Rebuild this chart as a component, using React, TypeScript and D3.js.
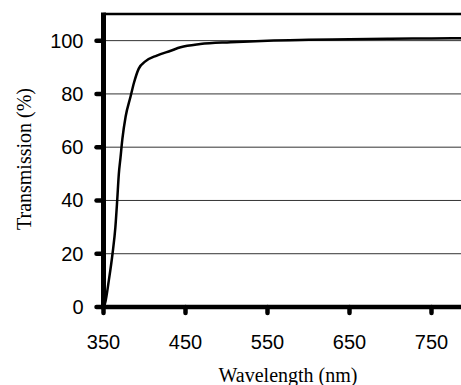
import { useEffect, useRef } from "react"
import * as d3 from "d3"

const wavelengths = [350, 352, 356.5, 361, 364.5, 366.7, 368.7, 370.7, 373, 377, 383, 387, 393, 401, 415, 432, 444, 468, 505, 550, 600, 650, 700, 750, 800]
const transmission = [0, 1.5, 10, 20, 30, 40, 50, 56, 63, 71.5, 79, 84, 89.5, 92.2, 94.4, 96.2, 97.5, 98.7, 99.4, 100, 100.3, 100.5, 100.7, 100.8, 100.9]
const xTicks = [350, 450, 550, 650, 750]
const yTicks = [0, 20, 40, 60, 80, 100]

export default function App() {
  const svgRef = useRef<SVGSVGElement>(null)

  useEffect(() => {
    const svg = d3.select(svgRef.current)
    svg.selectAll("*").remove()

    const width = 461
    const height = 385

    const x = d3.scaleLinear().domain([350, 800]).range([103.5, 472.5])
    const y = d3.scaleLinear().domain([0, 110]).range([307, 14])

    svg.attr("width", width).attr("height", height)

    // Gridlines
    svg.append("g")
      .selectAll("line")
      .data(yTicks.filter(d => d > 0))
      .enter()
      .append("line")
      .attr("x1", x(350))
      .attr("x2", width + 10)
      .attr("y1", d => y(d))
      .attr("y2", d => y(d))
      .attr("stroke", "#333")
      .attr("stroke-width", 1)

    // Top border
    svg.append("line")
      .attr("x1", x(350))
      .attr("x2", width + 10)
      .attr("y1", y(110))
      .attr("y2", y(110))
      .attr("stroke", "#000")
      .attr("stroke-width", 2.5)

    // Curve
    const data = wavelengths.map((w, i) => ({ w, t: transmission[i] }))
    const line = d3.line<{ w: number; t: number }>()
      .x(d => x(d.w))
      .y(d => y(d.t))
      .curve(d3.curveMonotoneX)

    svg.append("path")
      .datum(data)
      .attr("d", line)
      .attr("fill", "none")
      .attr("stroke", "#000")
      .attr("stroke-width", 2.5)

    // Y ticks
    svg.append("g")
      .selectAll("line")
      .data(yTicks)
      .enter()
      .append("line")
      .attr("x1", 96.5)
      .attr("x2", x(350))
      .attr("y1", d => y(d))
      .attr("y2", d => y(d))
      .attr("stroke", "#000")
      .attr("stroke-width", 4.5)
      .attr("stroke-linecap", "round")

    // X ticks
    svg.append("g")
      .selectAll("line")
      .data(xTicks)
      .enter()
      .append("line")
      .attr("x1", d => x(d))
      .attr("x2", d => x(d))
      .attr("y1", y(0))
      .attr("y2", 313)
      .attr("stroke", "#000")
      .attr("stroke-width", 4.5)
      .attr("stroke-linecap", "round")

    // Axes
    svg.append("line")
      .attr("x1", x(350))
      .attr("x2", x(350))
      .attr("y1", 12.5)
      .attr("y2", 309)
      .attr("stroke", "#000")
      .attr("stroke-width", 5)

    svg.append("line")
      .attr("x1", 101)
      .attr("x2", width + 10)
      .attr("y1", y(0))
      .attr("y2", y(0))
      .attr("stroke", "#000")
      .attr("stroke-width", 4.5)

    // Tick labels
    svg.append("g")
      .selectAll("text")
      .data(yTicks)
      .enter()
      .append("text")
      .attr("x", 83.5)
      .attr("y", d => y(d) + 7)
      .attr("text-anchor", "end")
      .attr("font-family", "'Liberation Sans', Arial, sans-serif")
      .attr("font-size", "20px")
      .attr("fill", "#000")
      .text(d => d)

    svg.append("g")
      .selectAll("text")
      .data(xTicks)
      .enter()
      .append("text")
      .attr("x", d => x(d))
      .attr("y", 349)
      .attr("text-anchor", "middle")
      .attr("font-family", "'Liberation Sans', Arial, sans-serif")
      .attr("font-size", "20px")
      .attr("fill", "#000")
      .text(d => d)

    // Axis titles
    svg.append("text")
      .attr("x", 288)
      .attr("y", 382)
      .attr("text-anchor", "middle")
      .attr("font-family", "'Liberation Serif', 'Times New Roman', serif")
      .attr("font-size", "20px")
      .attr("fill", "#000")
      .text("Wavelength (nm)")

    svg.append("text")
      .attr("transform", "translate(31,159) rotate(-90)")
      .attr("text-anchor", "middle")
      .attr("font-family", "'Liberation Serif', 'Times New Roman', serif")
      .attr("font-size", "20px")
      .attr("fill", "#000")
      .text("Transmission (%)")
  }, [])

  return (
    <svg ref={svgRef} style={{ position: "absolute", left: 0, top: 0, background: "#fff" }}></svg>
  )
}
